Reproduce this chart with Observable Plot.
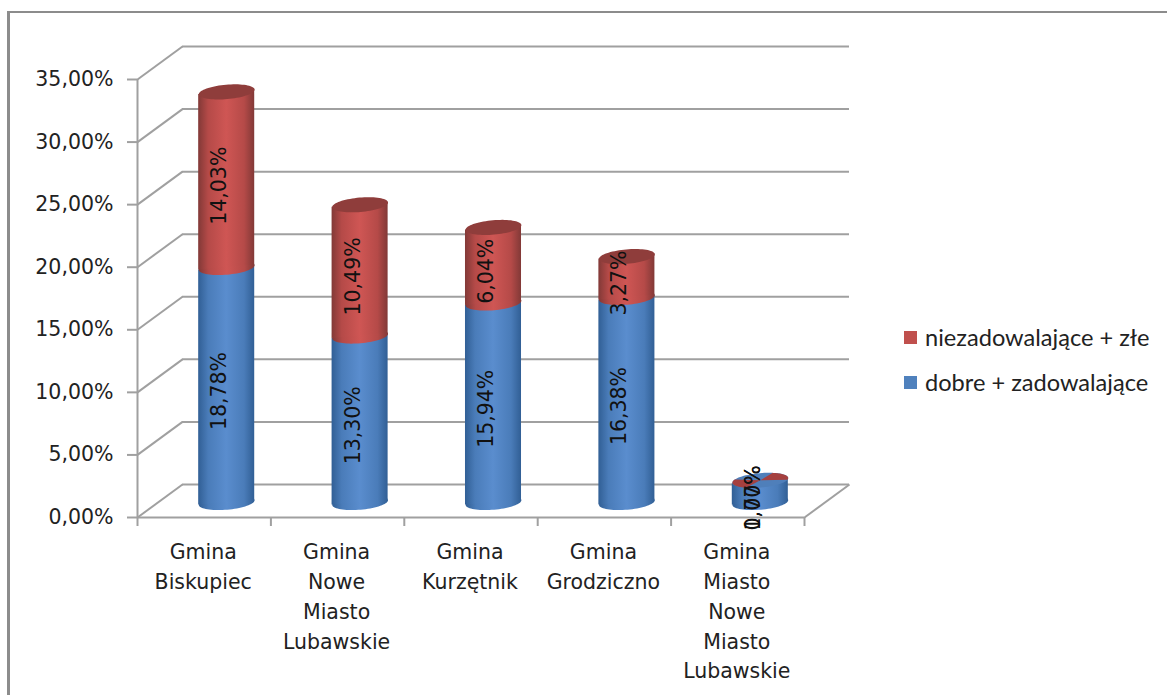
<!DOCTYPE html>
<html lang="pl">
<head>
<meta charset="utf-8">
<script src="https://cdn.jsdelivr.net/npm/d3@7"></script>
<script src="https://cdn.jsdelivr.net/npm/@observablehq/plot@0.6"></script>
<style>
  html, body { margin: 0; padding: 0; background: #fff; }
  #page { position: relative; width: 1167px; height: 695px; overflow: hidden; font-family: "DejaVu Sans", sans-serif; color: #222; }
  #frame { position: absolute; left: 7px; top: 11px; right: -10px; bottom: -10px; border-left: 3px solid #8c8c8c; border-top: 2px solid #8c8c8c; }
  #legend { position: absolute; left: 904px; top: 321px; font-family: Lato, sans-serif; font-size: 23.6px; }
  .row { display: flex; align-items: center; height: 32px; margin-bottom: 13px; white-space: nowrap; }
  .sw { width: 13px; height: 13px; margin-right: 8px; flex: none; }
  svg { position: absolute; left: 0; top: 0; overflow: visible; }
</style>
</head>
<body>
<div id="page">
  <div id="frame"></div>
  <div id="chart"></div>
  <div id="legend"></div>
</div>
<script>
const categories = [
  "Gmina\nBiskupiec",
  "Gmina\nNowe\nMiasto\nLubawskie",
  "Gmina\nKurzętnik",
  "Gmina\nGrodziczno",
  "Gmina\nMiasto\nNowe\nMiasto\nLubawskie"
];
const dobre = [18.78, 13.30, 15.94, 16.38, 1.70];
const niezadowalajace = [14.03, 10.49, 6.04, 3.27, 0.07];
const seriesNames = ["niezadowalające + złe", "dobre + zadowalające"];
const yTicks = [0, 5, 10, 15, 20, 25, 30, 35];
const xEdges = [0, 1, 2, 3, 4, 5];
const fmt = v => v.toFixed(2).replace(".", ",") + "%";

// 3D look: depth of the floor, in data units and pixels
const depthX = 0.3373, depthY = 2.637;
const wallDx = 45, wallDy = -33;
const cylDx = 22.5, cylDy = -15;
const radius = 0.21, tilt = 0.2;
const RX = 28, RY = 7.2, ROT = -5 * Math.PI / 180;

function ellipseSymbol(a0 = 0, a1 = 360, wedge = false) {
  return {
    draw(ctx) {
      const n = 72;
      const pt = t => {
        const a = (a0 + (a1 - a0) * t / n) * Math.PI / 180;
        const ex = RX * Math.cos(a), ey = RY * Math.sin(a);
        return [ex * Math.cos(ROT) - ey * Math.sin(ROT), ex * Math.sin(ROT) + ey * Math.cos(ROT)];
      };
      if (wedge) { ctx.moveTo(0, 0); ctx.lineTo(...pt(0)); } else ctx.moveTo(...pt(0));
      for (let t = 1; t <= n; ++t) ctx.lineTo(...pt(t));
      ctx.closePath();
    }
  };
}
const full = ellipseSymbol();

const rows = categories.map((c, i) => ({
  i, c, x: i + 0.5,
  blue: dobre[i], red: niezadowalajace[i], total: dobre[i] + niezadowalajace[i]
}));
const body = (a, b) => rows.flatMap(d => [
  {k: d.i, x: d.x - radius, y1: a(d) - tilt, y2: b(d) - tilt},
  {k: d.i, x: d.x + radius, y1: a(d) + tilt, y2: b(d) + tilt}
]);
const big = rows.filter(d => d.red >= 1);
const tiny = rows.filter(d => d.red < 1);

function gradient(id, edge, mid, center) {
  return `<linearGradient id="${id}" x1="0" x2="1" y1="0" y2="0">
    <stop offset="0" stop-color="${edge}"/><stop offset="0.18" stop-color="${mid}"/>
    <stop offset="0.5" stop-color="${center}"/><stop offset="0.82" stop-color="${mid}"/>
    <stop offset="1" stop-color="${edge}"/></linearGradient>`;
}
const defs = () => {
  const g = document.createElementNS("http://www.w3.org/2000/svg", "defs");
  g.innerHTML = gradient("gBlue", "#315f95", "#4a7cb9", "#5a8dce") + gradient("gRed", "#823937", "#b54a48", "#cf5654");
  return g;
};

const gray = "#a0a0a0";
const chart = Plot.plot({
  width: 1167, height: 695,
  marginLeft: 137, marginRight: 363, marginTop: 79, marginBottom: 178,
  style: {background: "transparent", fontFamily: "'DejaVu Sans', sans-serif"},
  x: {type: "linear", domain: [0, 5]},
  y: {type: "linear", domain: [0, 35]},
  marks: [
    defs,
    // back wall
    Plot.ruleY(yTicks, {x1: 0, x2: 5, dx: wallDx, dy: wallDy, stroke: gray, strokeWidth: 2}),
    // side wall and floor edges
    Plot.link(yTicks, {x1: 0, y1: d => d, x2: depthX, y2: d => d + depthY, stroke: gray, strokeWidth: 2}),
    Plot.link([0], {x1: 5, y1: d => d, x2: 5 + depthX, y2: d => d + depthY, stroke: gray, strokeWidth: 2}),
    // front axes
    Plot.ruleX([0], {y1: 0, y2: 35, stroke: gray, strokeWidth: 2}),
    Plot.ruleY([0], {x1: 0, x2: 5, stroke: gray, strokeWidth: 2}),
    Plot.axisY({ticks: yTicks, tickFormat: fmt, tickSize: 10, tickPadding: 14, stroke: gray, strokeWidth: 2, fill: "#222", fontSize: 20.5, label: null}),
    Plot.axisX({ticks: xEdges, tickFormat: () => "", tickSize: 9, stroke: gray, strokeWidth: 2, label: null}),
    Plot.axisX({ticks: rows.map(d => d.x), tickFormat: v => categories[v - 0.5], tickSize: 0, tickPadding: 20, lineAnchor: "top", lineHeight: 1.46, fill: "#222", fontSize: 20.5, dx: -1, label: null}),
    // blue segments
    Plot.dot(rows, {x: "x", y: () => 0, symbol: full, r: 5, fill: "url(#gBlue)", stroke: "none", dx: cylDx, dy: cylDy}),
    Plot.areaY(body(() => 0, d => d.blue), {x: "x", y1: "y1", y2: "y2", z: "k", fill: "url(#gBlue)", dx: cylDx, dy: cylDy}),
    // red segments
    Plot.dot(big, {x: "x", y: "blue", symbol: full, r: 5, fill: "url(#gRed)", stroke: "none", dx: cylDx, dy: cylDy}),
    Plot.areaY(body(d => d.blue, d => d.total).filter(d => big.some(b => b.i === d.k)), {x: "x", y1: "y1", y2: "y2", z: "k", fill: "url(#gRed)", dx: cylDx, dy: cylDy}),
    // cylinder caps
    Plot.dot(big, {x: "x", y: "total", symbol: full, r: 5, fill: "#8f3d3b", stroke: "none", dx: cylDx, dy: cylDy}),
    Plot.dot(tiny, {x: "x", y: "total", symbol: full, r: 5, fill: "#4f7fba", stroke: "none", dx: cylDx, dy: cylDy}),
    Plot.dot(tiny, {x: "x", y: "total", symbol: ellipseSymbol(-62, 15, true), r: 5, fill: "#a5403f", stroke: "none", dx: cylDx, dy: cylDy}),
    Plot.dot(tiny, {x: "x", y: "total", symbol: ellipseSymbol(122, 205, true), r: 5, fill: "#a5403f", stroke: "none", dx: cylDx, dy: cylDy}),
    // value labels
    Plot.text(rows, {x: "x", y: d => d.blue / 2, text: d => fmt(d.blue), rotate: -90, fontSize: 20.5, fill: "#111", dx: cylDx - 7, dy: cylDy + 6}),
    Plot.text(rows, {x: "x", y: d => d.red < 1 ? d.blue / 2 : d.blue + d.red / 2, text: d => fmt(d.red), rotate: -90, fontSize: 20.5, fill: "#111", dx: cylDx - 7, dy: cylDy + 6})
  ]
});
document.getElementById("chart").append(chart);

const colors = ["#c0504d", "#4f81bd"];
const legend = document.getElementById("legend");
seriesNames.forEach((name, i) => {
  const row = document.createElement("div");
  row.className = "row";
  row.innerHTML = `<span class="sw" style="background:${colors[i]}"></span><span>${name}</span>`;
  legend.append(row);
});
</script>
</body>
</html>
